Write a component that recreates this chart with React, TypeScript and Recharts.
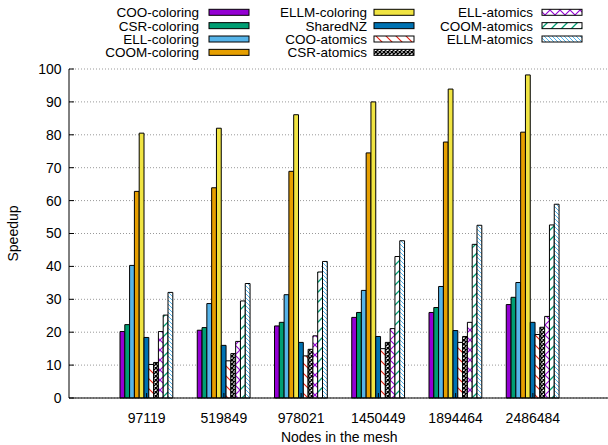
import { Bar, BarChart, CartesianGrid, XAxis, YAxis } from 'recharts'

const nodes = ['97119', '519849', '978021', '1450449', '1894464', '2486484']

const cooColoring = [20.2, 20.6, 21.9, 24.5, 26.0, 28.4]
const csrColoring = [22.3, 21.4, 23.0, 26.0, 27.5, 30.6]
const ellColoring = [40.3, 28.7, 31.4, 32.7, 33.9, 35.1]
const coomColoring = [62.8, 63.9, 68.9, 74.5, 77.8, 80.8]
const ellmColoring = [80.5, 82.0, 86.1, 90.0, 93.9, 98.2]
const sharedNZ = [18.4, 16.0, 16.9, 18.7, 20.5, 23.0]
const cooAtomics = [10.2, 11.3, 12.8, 15.0, 16.9, 19.3]
const csrAtomics = [10.8, 13.5, 14.8, 16.9, 18.7, 21.5]
const ellAtomics = [20.2, 17.2, 18.9, 21.1, 23.0, 24.8]
const coomAtomics = [25.2, 29.5, 38.3, 43.0, 46.7, 52.6]
const ellmAtomics = [32.1, 34.8, 41.5, 47.8, 52.5, 58.9]

const yTicks = [0, 10, 20, 30, 40, 50, 60, 70, 80, 90, 100]

const series = [
  { key: 'cooColoring', name: 'COO-coloring', values: cooColoring, fill: '#9400d3' },
  { key: 'csrColoring', name: 'CSR-coloring', values: csrColoring, fill: '#009e73' },
  { key: 'ellColoring', name: 'ELL-coloring', values: ellColoring, fill: '#56b4e9' },
  { key: 'coomColoring', name: 'COOM-coloring', values: coomColoring, fill: '#e69f00' },
  { key: 'ellmColoring', name: 'ELLM-coloring', values: ellmColoring, fill: '#f0e442' },
  { key: 'sharedNZ', name: 'SharedNZ', values: sharedNZ, fill: '#0072b2' },
  { key: 'cooAtomics', name: 'COO-atomics', values: cooAtomics, fill: 'url(#pat-coo)' },
  { key: 'csrAtomics', name: 'CSR-atomics', values: csrAtomics, fill: 'url(#pat-csr)' },
  { key: 'ellAtomics', name: 'ELL-atomics', values: ellAtomics, fill: 'url(#pat-ell)' },
  { key: 'coomAtomics', name: 'COOM-atomics', values: coomAtomics, fill: 'url(#pat-coom)' },
  { key: 'ellmAtomics', name: 'ELLM-atomics', values: ellmAtomics, fill: 'url(#pat-ellm)' },
]

const rows = nodes.map((n, i) => {
  const row: Record<string, string | number> = { nodes: n }
  series.forEach((s) => {
    row[s.key] = s.values[i]
  })
  return row
})

// key columns: right edge of the text, left edge of the sample box
const keyTextRight = [199, 367, 533]
const keyBoxLeft = [209, 374, 542]

const noTick = () => <g />

function Patterns() {
  return (
    <defs>
      <pattern id="pat-coo" patternUnits="userSpaceOnUse" width="10" height="10">
        <rect width="10" height="10" fill="#fff" />
        <path d="M0,0 L10,10 M-1,9 L1,11 M9,-1 L11,1" stroke="#e51e10" strokeWidth="1.1" />
      </pattern>
      <pattern id="pat-csr" patternUnits="userSpaceOnUse" width="4" height="4">
        <rect width="4" height="4" fill="#fff" />
        <path d="M0,0 L4,4 M4,0 L0,4" stroke="#000" strokeWidth="1.4" />
      </pattern>
      <pattern id="pat-ell" patternUnits="userSpaceOnUse" width="10" height="10">
        <rect width="10" height="10" fill="#fff" />
        <path d="M0,0 L10,10 M10,0 L0,10" stroke="#9400d3" strokeWidth="1.1" />
      </pattern>
      <pattern id="pat-coom" patternUnits="userSpaceOnUse" width="10" height="10">
        <rect width="10" height="10" fill="#fff" />
        <path d="M0,10 L10,0 M-1,1 L1,-1 M9,11 L11,9" stroke="#009e73" strokeWidth="1.3" />
      </pattern>
      <pattern id="pat-ellm" patternUnits="userSpaceOnUse" width="4" height="4">
        <rect width="4" height="4" fill="#fff" />
        <path d="M0,0 L4,4 M-1,3 L1,5 M3,-1 L5,1" stroke="#56b4e9" strokeWidth="1" />
      </pattern>
    </defs>
  )
}

function KeyBox() {
  return (
    <svg
      width={608}
      height={66}
      style={{ position: 'absolute', left: 0, top: 0 }}
    >
      {series.map((s, i) => {
        const col = Math.floor(i / 4)
        const cy = 12.3 + (i % 4) * 13.35
        return (
          <g key={s.key}>
            <text
              x={keyTextRight[col]}
              y={cy + 5}
              textAnchor="end"
              fontSize={13.5}
              fill="#000"
            >
              {s.name}
            </text>
            <rect
              x={keyBoxLeft[col]}
              y={cy - 3}
              width={40}
              height={6}
              fill={s.fill}
              stroke="#000"
              strokeWidth={1}
            />
          </g>
        )
      })}
    </svg>
  )
}

export default function App() {
  return (
    <div
      style={{
        position: 'absolute',
        left: 0,
        top: 0,
        width: 608,
        height: 445,
        overflow: 'hidden',
        background: '#fff',
        fontFamily: '"Liberation Sans", Arial, sans-serif',
      }}
    >
      <BarChart
        width={612}
        height={445}
        data={rows}
        margin={{ top: 69, right: 2.5, bottom: 0, left: 0 }}
        barSize={4.8}
        barGap={0}
      >
        <Patterns />
        <CartesianGrid vertical={false} stroke="#999" strokeDasharray="1 2" />
        <XAxis
          dataKey="nodes"
          height={47}
          padding={{ left: 39, right: 38 }}
          interval={0}
          tickSize={-5}
          tickMargin={20}
          tick={{ fontSize: 14, fill: '#000' }}
          tickLine={{ stroke: '#000' }}
          axisLine={{ stroke: '#000' }}
          label={{ value: 'Nodes in the mesh', position: 'center', dy: 16, fontSize: 14, fill: '#000' }}
        />
        <XAxis
          xAxisId="top"
          orientation="top"
          dataKey="nodes"
          height={0}
          padding={{ left: 39, right: 38 }}
          interval={0}
          tickSize={-5}
          tick={noTick}
          tickLine={{ stroke: '#000' }}
          axisLine={{ stroke: '#000' }}
        />
        <YAxis
          width={69}
          domain={[0, 100]}
          ticks={yTicks}
          interval={0}
          tickSize={-5}
          tickMargin={12.5}
          tick={{ fontSize: 14, fill: '#000' }}
          tickLine={{ stroke: '#000' }}
          axisLine={{ stroke: '#000' }}
          label={{ value: 'Speedup', angle: -90, position: 'center', dx: -21.5, fontSize: 14, fill: '#000' }}
        />
        <YAxis
          yAxisId="right"
          orientation="right"
          width={0}
          domain={[0, 100]}
          ticks={yTicks}
          interval={0}
          tickSize={-5}
          tick={noTick}
          tickLine={{ stroke: '#000' }}
          axisLine={{ stroke: '#000' }}
        />
        {series.map((s) => (
          <Bar
            key={s.key}
            dataKey={s.key}
            name={s.name}
            fill={s.fill}
            stroke="#000"
            strokeWidth={1}
            isAnimationActive={false}
          />
        ))}
      </BarChart>
      <KeyBox />
    </div>
  )
}
